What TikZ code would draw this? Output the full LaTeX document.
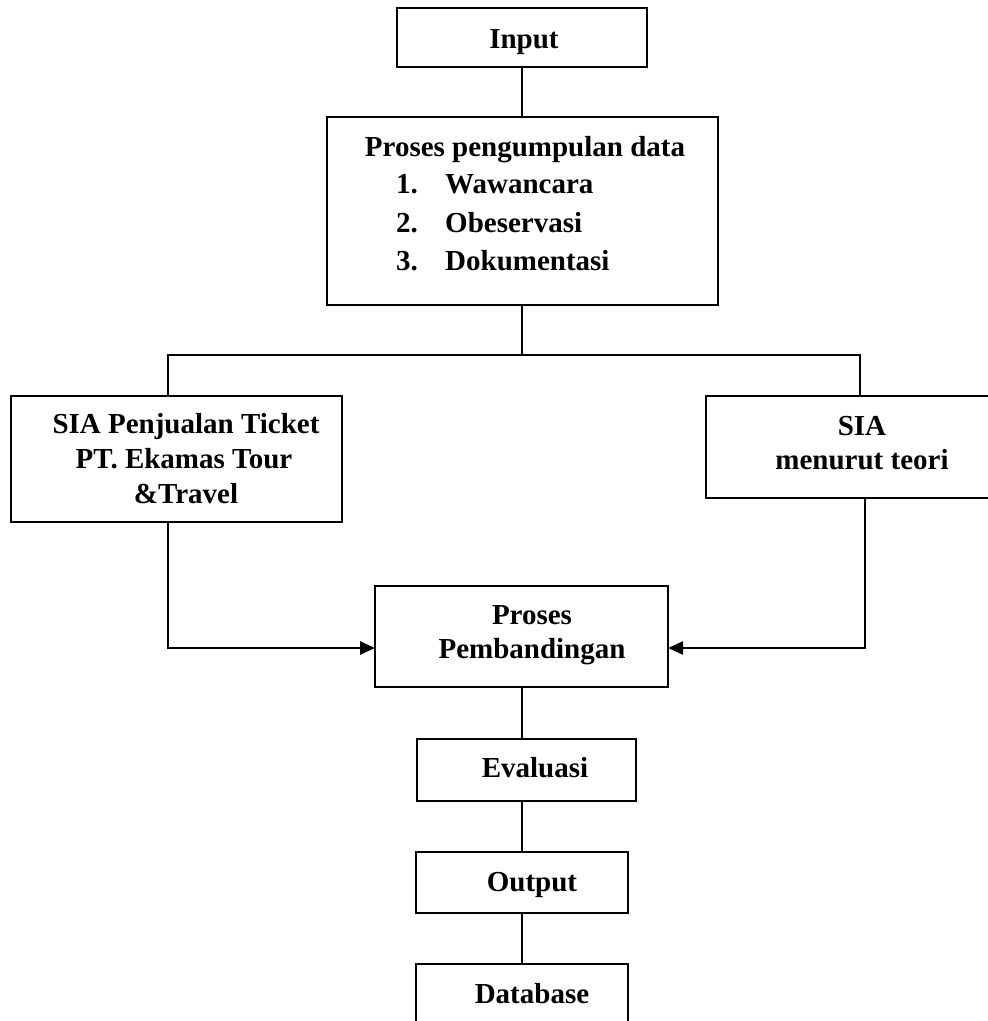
\documentclass[tikz,border=0pt]{standalone}
\usepackage{fontspec}
\setmainfont{Liberation Serif}
\usetikzlibrary{arrows.meta}
\begin{document}
\begin{tikzpicture}[x=1pt,y=-1pt,
  box/.style={draw, line width=2pt, inner sep=0pt, outer sep=0pt},
  lbl/.style={anchor=base, inner sep=0pt, font=\fontsize{29}{35}\selectfont\bfseries},
  lblw/.style={lbl, anchor=base west},
  link/.style={line width=1.7pt},
  feed/.style={line width=2.7pt, -{Triangle[length=15pt,width=13pt]}}]
\useasboundingbox (0,0) rectangle (988,1021);
\clip (0,0) rectangle (988,1021);

% boxes
\node[box, minimum width=250pt, minimum height=59pt]  (input)    at (522,37.5)   {};
\node[box, minimum width=391pt, minimum height=188pt] (collect)  at (522.5,211)  {};
\node[box, minimum width=331pt, minimum height=126pt] (left)     at (176.5,459)  {};
\node[box, minimum width=304pt, minimum height=102pt] (right)    at (858,447)    {};
\node[box, minimum width=293pt, minimum height=101pt] (compare)  at (521.5,636.5){};
\node[box, minimum width=219pt, minimum height=62pt]  (eval)     at (526.5,770)  {};
\node[box, minimum width=212pt, minimum height=61pt]  (output)   at (522,882.5)  {};
\node[box, minimum width=212pt, minimum height=76pt]  (database) at (522,1002)   {};

% guide coordinates for the connector columns and rows
\coordinate (spine)    at (522,0);
\coordinate (lcol)     at (168,0);
\coordinate (rcol)     at (860,0);
\coordinate (rcolb)    at (865,0);
\coordinate (fork)     at (522,355);
\coordinate (arrowrow) at (0,648);

% connectors
\draw[link] (input.south -| spine) -- (collect.north -| spine);
\draw[link] (collect.south -| spine) -- (fork);
\draw[link] (left.north -| lcol) -- (fork -| lcol) -- (fork -| rcol) -- (right.north -| rcol);
\draw[feed] (left.south -| lcol) |- (compare.west |- arrowrow);
\draw[feed] (right.south -| rcolb) |- (compare.east |- arrowrow);
\draw[link] (compare.south -| spine) -- (eval.north -| spine);
\draw[link] (eval.south -| spine) -- (output.north -| spine);
\draw[link] (output.south -| spine) -- (database.north -| spine);

% texts
\node[lbl] (tinput) at (524,48) {Input};
\node[lbl] (thead) at (525,156) {Proses pengumpulan data};
\node[lblw] (n1) at (396,193) {1.};
\node[lblw] (i1) at (445,193) {Wawancara};
\node[lblw] (n2) at (396,232) {2.};
\node[lblw] (i2) at (445,232) {Obeservasi};
\node[lblw] (n3) at (396,270) {3.};
\node[lblw] (i3) at (445,270) {Dokumentasi};

\node[lbl] (tl1) at (186,433) {SIA Penjualan Ticket};
\node[lbl] (tl2) at (184,468) {PT. Ekamas Tour};
\node[lbl] (tl3) at (186,503) {\&Travel};

\node[lbl] (tr1) at (862,435) {SIA};
\node[lbl] (tr2) at (862,469) {menurut teori};

\node[lbl] (tc1) at (532,624) {Proses};
\node[lbl] (tc2) at (532,658) {Pembandingan};

\node[lbl] (teval) at (535,777) {Evaluasi};
\node[lbl] (tout) at (532,891) {Output};
\node[lbl] (tdb) at (532,1003) {Database};
\end{tikzpicture}
\end{document}
